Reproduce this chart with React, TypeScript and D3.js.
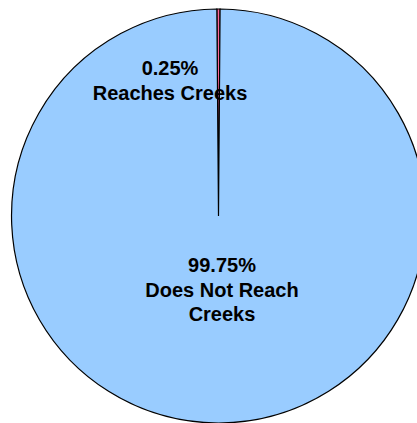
import React from "react";
import * as d3 from "d3";

const categories = ["Reaches Creeks", "Does Not Reach Creeks"];
const values = [0.25, 99.75];
const colors = ["#FF6699", "#99CCFF"];
const labelLines = [
  ["0.25%", "Reaches Creeks"],
  ["99.75%", "Does Not Reach", "Creeks"],
];

export default function App() {
  const W = 417, H = 423;
  const cx = 218.5, cy = 216, r = 207;
  const offset = -0.008;
  const pie = d3.pie<number>().sort(null).startAngle(offset).endAngle(offset + 2 * Math.PI);
  const arcs = pie(values);
  const arc = d3.arc<d3.PieArcDatum<number>>().innerRadius(0).outerRadius(r);
  const labelPos = [
    [170, 75],
    [222, 272],
  ];
  return (
    <svg width={W} height={H} style={{ position: "absolute", left: 0, top: 0 }}>
      <rect width={W} height={H} fill="#fff" />
      <g transform={`translate(${cx},${cy})`}>
        {arcs.map((a, i) => (
          <path key={categories[i]} d={arc(a) || ""} fill={colors[i]} stroke="#000" strokeWidth={1.2} />
        ))}
      </g>
      {labelLines.map((lines, i) => (
        <text
          key={i}
          x={labelPos[i][0]}
          y={labelPos[i][1]}
          textAnchor="middle"
          fontFamily="Liberation Sans, Arial, sans-serif"
          fontWeight="bold"
          fontSize={20}
          fill="#000"
        >
          {lines.map((l, j) => (
            <tspan key={j} x={labelPos[i][0]} dy={j === 0 ? 0 : 24.5}>
              {l}
            </tspan>
          ))}
        </text>
      ))}
    </svg>
  );
}
